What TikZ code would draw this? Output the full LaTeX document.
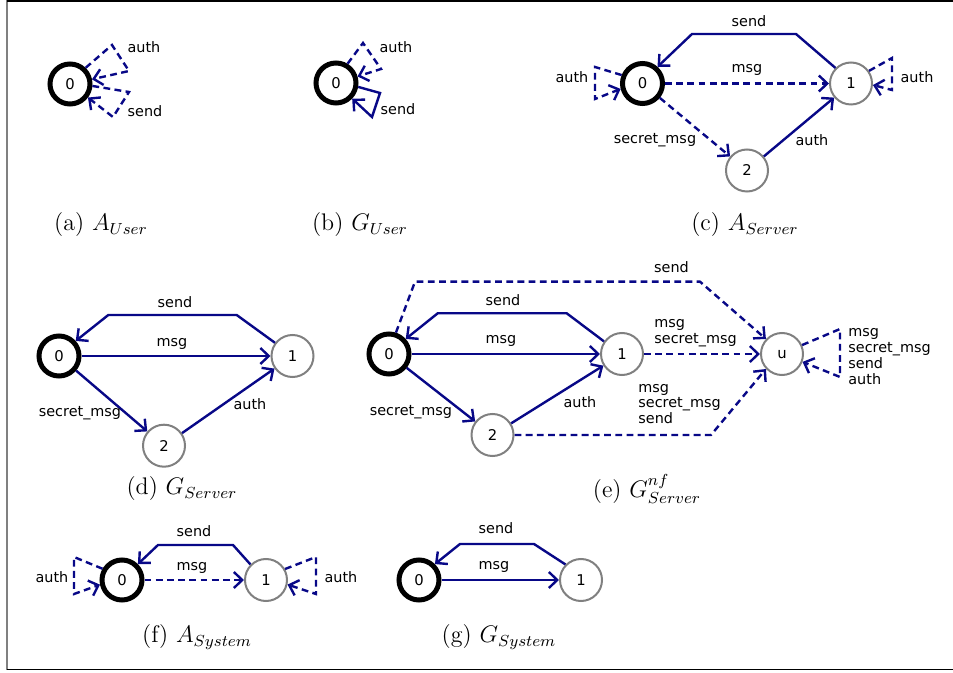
\documentclass[tikz,border=0pt]{standalone}
\usepackage{fontspec}
\newfontfamily\labfont{DejaVu Sans}
\usetikzlibrary{arrows.meta}
\definecolor{edgeblue}{RGB}{8,8,135}
\definecolor{nodegray}{RGB}{128,128,128}
\begin{document}
\begin{tikzpicture}[x=0.5pt,y=-0.5pt,
  initst/.style={circle,draw=black,line width=2.5pt,minimum size=20pt,inner sep=0pt,font=\labfont\fontsize{7.4}{8}\selectfont},
  st/.style={circle,draw=nodegray,line width=1pt,minimum size=21pt,inner sep=0pt,font=\labfont\fontsize{7.4}{8}\selectfont},
  tr/.style={draw=edgeblue,line width=1.2pt,line join=miter,-{Straight Barb[length=4.2pt,width=8pt]}},
  dtr/.style={tr,dash pattern=on 3.4pt off 2.2pt},
  lab/.style={font=\labfont\fontsize{7.2}{7.9}\selectfont,inner sep=0pt,align=left},
  captxt/.style={font=\fontsize{12}{14}\selectfont,inner sep=0pt}]
\useasboundingbox (0,0) rectangle (953,673);
% frame
\draw[line width=1pt,nodegray] (7,0) -- (7,670);
\draw[line width=1pt,black] (7,0.6) -- (953,0.6);
\draw[line width=0.8pt,black] (7,669.5) -- (953,669.5);

% ---------- (a) A_User
\node[initst] (a0) at (70,84) {0};
\draw[dtr] (a0.46) -- (112,45) -- (129,71) -- (a0.12);
\draw[dtr] (a0.-5) -- (129,92) -- (113,117) -- (a0.-37);
\node[lab] (la1) at (144,47) {auth};
\node[lab] (la2) at (145,111) {send};
\node[captxt] (capa) at (101,225) {(a) $A_{User}$};

% ---------- (b) G_User
\node[initst] (b0) at (336,83) {0};
\draw[dtr] (b0.59) -- (363,43) -- (381,69) -- (b0.17);
\draw[tr] (b0.-10) -- (380,93) -- (372,117) -- (b0.-44);
\node[lab] (lb1) at (396,47) {auth};
\node[lab] (lb2) at (398,109) {send};
\node[captxt] (capb) at (360,225) {(b) $G_{User}$};

% ---------- (c) A_Server
\node[initst] (c0) at (642.5,83.5) {0};
\node[st] (c1) at (851,83.5) {1};
\node[st] (c2) at (747,170.5) {2};
\draw[tr] (c1.135) -- (796,34) -- (692,34) -- (c0.48);
\draw[dtr] (c0) -- (c1);
\draw[dtr] (c0) -- (c2);
\draw[tr] (c2) -- (c1);
\draw[dtr] (c0.158) -- (595,67) -- (595,99) -- (c0.194);
\draw[dtr] (c1.35) -- (892,58) -- (892,90) -- (c1.-4);
\node[lab] (lc1) at (749,21) {send};
\node[lab] (lc2) at (747,70) {msg};
\node[lab] (lc3) at (655,140) {secret\_msg};
\node[lab] (lc4) at (812,140) {auth};
\node[lab] (lc5) at (572,77) {auth};
\node[lab] (lc6) at (917,77) {auth};
\node[captxt] (capc) at (745,225) {(c) $A_{Server}$};

% ---------- (d) G_Server
\node[initst] (d0) at (59,356) {0};
\node[st] (d1) at (292.5,356) {1};
\node[st] (d2) at (164,445.7) {2};
\draw[tr] (d1.143) -- (236.7,315) -- (108.3,315) -- (d0.42);
\draw[tr] (d0) -- (d1);
\draw[tr] (d0) -- (d2);
\draw[tr] (d2) -- (d1);
\node[lab] (ld1) at (175,301.7) {send};
\node[lab] (ld2) at (172,344) {msg};
\node[lab] (ld3) at (80,413) {secret\_msg};
\node[lab] (ld4) at (250,404) {auth};
\node[captxt] (capd) at (182,489) {(d) $G_{Server}$};

% ---------- (e) G^nf_Server
\node[initst] (e0) at (389,354) {0};
\node[st] (e1) at (622,354) {1};
\node[st] (e2) at (492.5,435) {2};
\node[st] (eu) at (782,354) {u};
\draw[dtr] (e0.72) -- (415,281.7) -- (700,281.7) -- (eu.137);
\draw[tr] (e1.145) -- (566.7,313.3) -- (437.7,313.3) -- (e0.42);
\draw[tr] (e0) -- (e1);
\draw[tr] (e0) -- (e2);
\draw[tr] (e2) -- (e1);
\draw[dtr] (e1) -- (eu);
\draw[dtr] (e2.east) -- (711,435) -- (eu.-137);
\draw[dtr] (eu.24) -- (840,329) -- (840,377) -- (eu.-21);
\node[lab] (le1) at (671.5,267.5) {send};
\node[lab] (le2) at (503,300) {send};
\node[lab] (le3) at (501,341) {msg};
\node[lab] (le4) at (411,412) {secret\_msg};
\node[lab] (le5) at (580,402) {auth};
\node[lab,anchor=west] (le6) at (654,333) {msg\\secret\_msg};
\node[lab,anchor=west] (le7) at (638,404) {msg\\secret\_msg\\send};
\node[lab,anchor=west] (le8) at (848,356.5) {msg\\secret\_msg\\send\\auth};
\node[captxt] (cape) at (647,489) {(e) $G^{nf}_{Server}$};

% ---------- (f) A_System
\node[initst] (f0) at (122,580) {0};
\node[st] (f1) at (266,580) {1};
\draw[tr] (f1.135) -- (233,545) -- (158,545) -- (f0.45);
\draw[dtr] (f0) -- (f1);
\draw[dtr] (f0.150) -- (74,557) -- (74,594) -- (f0.192);
\draw[dtr] (f1.30) -- (316,557) -- (316,594) -- (f1.-12);
\node[lab] (lf1) at (194,531) {send};
\node[lab] (lf2) at (192,568) {msg};
\node[lab] (lf3) at (52,577) {auth};
\node[lab] (lf4) at (341,577) {auth};
\node[captxt] (capf) at (197,637) {(f) $A_{System}$};

% ---------- (g) G_System
\node[initst] (g0) at (419,580) {0};
\node[st] (g1) at (581,580) {1};
\draw[tr] (g1.135) -- (534,544) -- (460,544) -- (g0.45);
\draw[tr] (g0) -- (g1);
\node[lab] (lg1) at (496,528) {send};
\node[lab] (lg2) at (494,567) {msg};
\node[captxt] (capg) at (499,637) {(g) $G_{System}$};
\end{tikzpicture}
\end{document}
